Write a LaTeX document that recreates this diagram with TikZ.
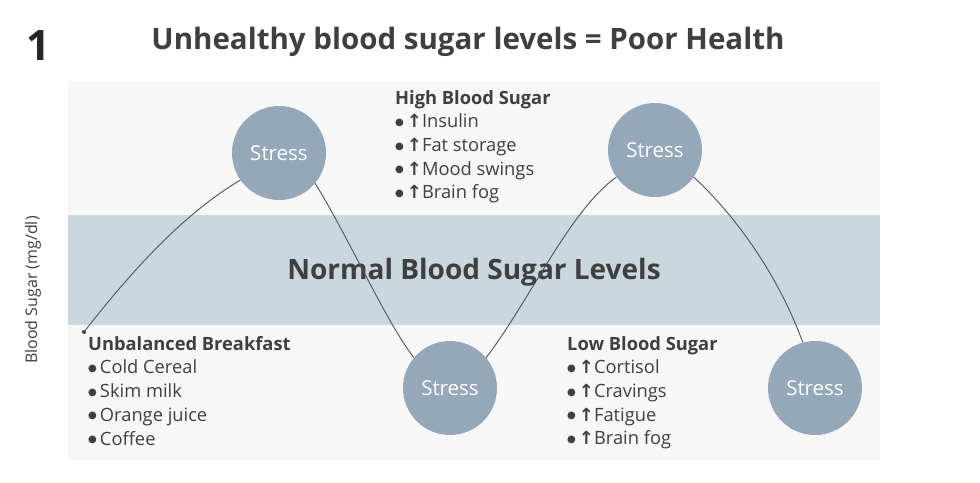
\documentclass[tikz,border=0pt]{standalone}
\usepackage{fontspec}
\setmainfont{Open Sans}
\newfontfamily\symb{DejaVu Sans}
\definecolor{band}{HTML}{C9D7DF}
\definecolor{circ}{HTML}{94A8B9}
\definecolor{txt}{HTML}{3F3F3F}
\definecolor{panel}{HTML}{F7F7F7}
\newcommand{\up}{{\symb\bfseries\fontsize{18}{18}\selectfont ↑}}
\newcommand{\bul}{\raisebox{2.5pt}{\symb\fontsize{10}{10}\selectfont ●}\,}
\begin{document}
\begin{tikzpicture}[x=1pt,y=-1pt,
  stress/.style={circle,fill=circ,minimum size=94pt,inner sep=0,text=white,font=\fontsize{20.5}{22}\selectfont},
  lst/.style={anchor=north west,align=left,text=txt,font=\fontsize{18.3}{23.7}\selectfont,inner sep=0},
  curve/.style={draw=txt!90,line width=0.9pt}]
\useasboundingbox (0,0) rectangle (980,482);
\fill[panel] (68,82) rectangle (880,460);
\fill[band] (68,215) rectangle (880,325);
\node[font=\bfseries\fontsize{42}{42}\selectfont,text=black!85] (one) at (38,46) {1};
\node[font=\bfseries\fontsize{29.5}{30}\selectfont,text=txt] (title) at (468,42) {Unhealthy blood sugar levels = Poor Health};
\node[font=\bfseries\fontsize{28}{30}\selectfont,text=txt] (normal) at (474,272) {Normal Blood Sugar Levels};
\node[rotate=90,font=\fontsize{16}{16}\selectfont,text=txt] (yl) at (33,290) {Blood Sugar (mg/dl)};
\node[stress] (s1) at (279,153) {Stress};
\node[stress] (s2) at (655,150) {Stress};
\node[stress] (s3) at (450,388) {Stress};
\node[stress] (s4) at (815,388) {Stress};
\fill[txt] (84,332) circle (2pt);
\coordinate (st) at (84,332);
\draw[curve] (st) .. controls (140,260) and (190,210) .. (s1.215);
\draw[curve] (s1.-40) .. controls (350,240) and (385,320) .. (s3.140);
\draw[curve] (s3.40) .. controls (530,300) and (570,210) .. (s2.215);
\draw[curve] (s2.-35) .. controls (740,220) and (780,280) .. (s4.105);
\node[lst] (hi) at (395,90) {\textbf{High Blood Sugar}\\ \bul\up Insulin\\ \bul\up Fat storage\\ \bul\up Mood swings\\ \bul\up Brain fog};
\node[lst] (ub) at (88,336) {\textbf{Unbalanced Breakfast}\\ \bul Cold Cereal\\ \bul Skim milk\\ \bul Orange juice\\ \bul Coffee};
\node[lst] (lo) at (567,336) {\textbf{Low Blood Sugar}\\ \bul\up Cortisol\\ \bul\up Cravings\\ \bul\up Fatigue\\ \bul\up Brain fog};
\end{tikzpicture}
\end{document}
